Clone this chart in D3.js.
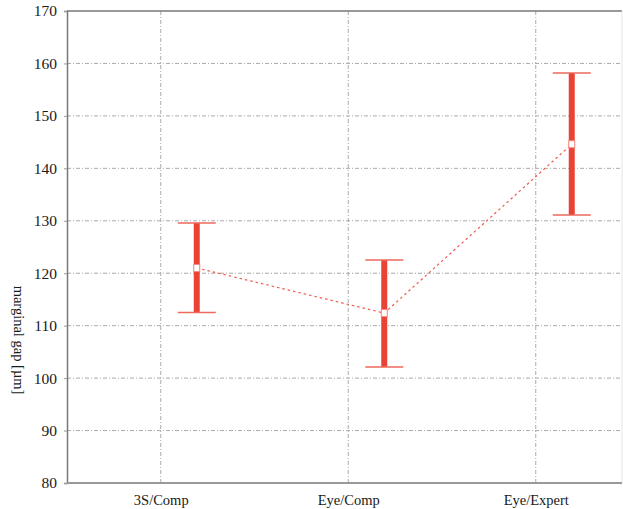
<!DOCTYPE html>
<html><head><meta charset="utf-8">
<script src="https://cdn.jsdelivr.net/npm/d3@7"></script>
<style>body{margin:0;background:#fff}svg{display:block}
text{font-family:"Liberation Serif","Times New Roman",serif !important;}</style>
</head><body><svg id="c" width="623" height="509"></svg>
<script>
const categories = ["3S/Comp", "Eye/Comp", "Eye/Expert"];
const means = [121.0, 112.4, 144.6];
const upper = [129.6, 122.5, 158.2];
const lower = [112.5, 102.1, 131.1];
const yTicks = [80, 90, 100, 110, 120, 130, 140, 150, 160, 170];
const yLabel = "marginal gap [µm]";

const svg = d3.select("#c");
const L = 67, R = 622, T = 11, B = 483;
const x = d3.scalePoint().domain(categories).range([L, 629.5]).padding(0.5);
const y = d3.scaleLinear().domain([80, 170]).range([B, T]);
const off = 36;
const font = "Liberation Serif";

// gridlines
svg.append("g").selectAll("line").data(yTicks.slice(1, -1)).join("line")
  .attr("x1", L).attr("x2", R).attr("y1", d => y(d)).attr("y2", d => y(d))
  .attr("stroke", "#aaa").attr("stroke-width", 1).attr("stroke-dasharray", "4,2,1,2");
svg.append("g").selectAll("line").data(categories).join("line")
  .attr("x1", d => x(d)).attr("x2", d => x(d)).attr("y1", T).attr("y2", B)
  .attr("stroke", "#aaa").attr("stroke-width", 1).attr("stroke-dasharray", "4,2,1,2");

// frame
svg.append("line").attr("x1", L).attr("x2", R).attr("y1", T).attr("y2", T).attr("stroke", "#777").attr("stroke-width", 1.5);
svg.append("line").attr("x1", R).attr("x2", R).attr("y1", T).attr("y2", B).attr("stroke", "#e4e4e4").attr("stroke-width", 1);

// axes
const ya = svg.append("g").attr("transform", `translate(${L},0)`)
  .call(d3.axisLeft(y).tickValues(yTicks).tickSize(3).tickFormat(d3.format("d")));
ya.attr("font-family", font);
ya.select(".domain").attr("stroke", "#777").attr("stroke-width", 1.5);
ya.selectAll(".tick line").attr("stroke", "#999");
ya.selectAll("text").attr("font-family", font).attr("font-size", 15.5).attr("fill", "#1a1a1a").attr("dx", "-4");

const xa = svg.append("g").attr("transform", `translate(0,${B})`)
  .call(d3.axisBottom(x).tickSize(0).tickPadding(12));
xa.attr("font-family", font);
xa.select(".domain").attr("d", `M${L},0H${R}`).attr("stroke", "#999").attr("stroke-width", 2);
xa.selectAll("text").attr("font-family", font).attr("font-size", 14.5).attr("fill", "#1a1a1a");

// y label
svg.append("text").attr("transform", "translate(14,340) rotate(90)")
  .attr("text-anchor", "middle").attr("font-family", font).attr("font-size", 14.5).attr("fill", "#1a1a1a")
  .text(yLabel);

const data = categories.map((c, i) => ({c, m: means[i], u: upper[i], l: lower[i]}));
const red = "#ea4335";

// dashed connecting line
svg.append("path").datum(data)
  .attr("d", d3.line().x(d => x(d.c) + off).y(d => y(d.m)))
  .attr("fill", "none").attr("stroke", "#ee5a4c").attr("stroke-width", 1.2).attr("stroke-dasharray", "2.5,3");

const g = svg.append("g").selectAll("g").data(data).join("g");
g.append("line").attr("x1", d => x(d.c) + off).attr("x2", d => x(d.c) + off)
  .attr("y1", d => y(d.u)).attr("y2", d => y(d.l)).attr("stroke", red).attr("stroke-width", 6);
g.append("line").attr("x1", d => x(d.c) + off - 19).attr("x2", d => x(d.c) + off + 19)
  .attr("y1", d => y(d.u)).attr("y2", d => y(d.u)).attr("stroke", "#ee6a5c").attr("stroke-width", 1.5);
g.append("line").attr("x1", d => x(d.c) + off - 19).attr("x2", d => x(d.c) + off + 19)
  .attr("y1", d => y(d.l)).attr("y2", d => y(d.l)).attr("stroke", "#ee6a5c").attr("stroke-width", 1.5);
g.append("rect").attr("x", d => x(d.c) + off - 3).attr("y", d => y(d.m) - 3.5)
  .attr("width", 6).attr("height", 7).attr("fill", "#fff").attr("stroke", "#f08a80").attr("stroke-width", 1);
</script></body></html>
